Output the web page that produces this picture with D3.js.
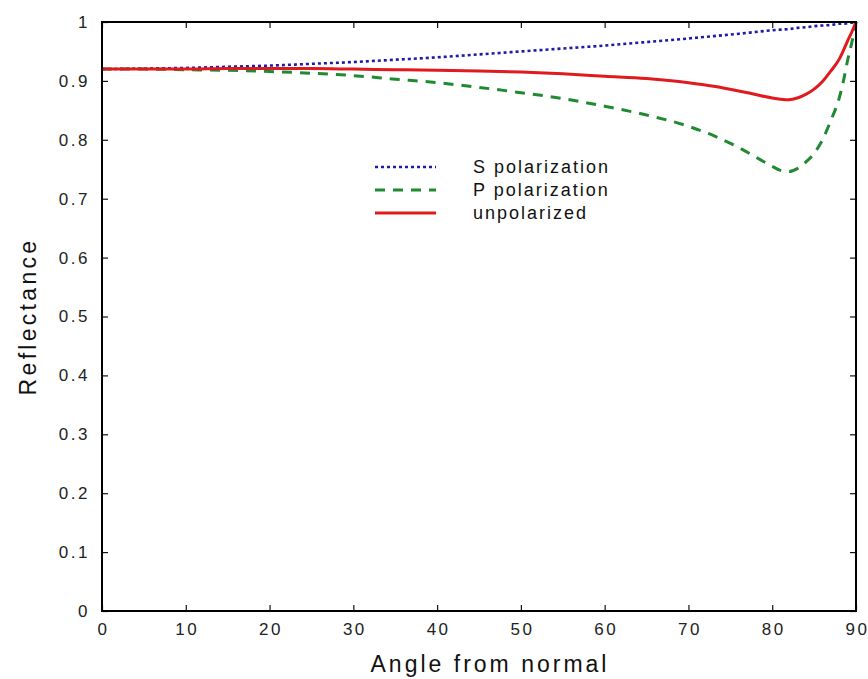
<!DOCTYPE html>
<html>
<head>
<meta charset="utf-8">
<script src="https://cdn.jsdelivr.net/npm/d3@7"></script>
<style>
  html, body { margin: 0; padding: 0; background: #fff; }
  svg { display: block; }
  text { font-family: "Liberation Sans", Arial, Helvetica, sans-serif; }
</style>
</head>
<body>
<svg id="chart" width="868" height="679"></svg>
<script>
// Angle of incidence (degrees)
const angles = [0, 5, 10, 15, 20, 25, 30, 35, 40, 45, 50, 55, 60, 65, 70, 73, 76, 78, 80, 81, 82, 83, 84, 85, 86, 87, 88, 88.5, 89, 89.5, 90];

// Reflectance for s-polarized light
const sPol = [0.920, 0.921, 0.922, 0.924, 0.926, 0.929, 0.932, 0.936, 0.940, 0.945, 0.950, 0.955, 0.960, 0.966, 0.972, 0.976, 0.980, 0.983, 0.986, 0.987, 0.988, 0.990, 0.991, 0.993, 0.994, 0.995, 0.997, 0.997, 0.998, 0.999, 1.000];

// Reflectance for p-polarized light
const pPol = [0.920, 0.920, 0.919, 0.918, 0.916, 0.913, 0.909, 0.903, 0.897, 0.889, 0.880, 0.870, 0.857, 0.842, 0.823, 0.807, 0.787, 0.771, 0.755, 0.748, 0.746, 0.751, 0.762, 0.777, 0.800, 0.833, 0.871, 0.900, 0.935, 0.965, 1.000];

// Reflectance for unpolarized light
const unPol = [0.920, 0.920, 0.920, 0.921, 0.921, 0.921, 0.920, 0.919, 0.918, 0.917, 0.915, 0.912, 0.908, 0.904, 0.897, 0.891, 0.883, 0.877, 0.871, 0.869, 0.868, 0.871, 0.877, 0.886, 0.899, 0.917, 0.937, 0.952, 0.968, 0.983, 1.000];

const xTicks = [0, 10, 20, 30, 40, 50, 60, 70, 80, 90];
const yTicks = [0, 0.1, 0.2, 0.3, 0.4, 0.5, 0.6, 0.7, 0.8, 0.9, 1];

const seriesNames = ["S polarization", "P polarization", "unpolarized"];
const seriesColors = ["#1c1ca8", "#1f8a32", "#e01a1e"];
const seriesDash = ["3,3", "10,8", null];
const seriesWidth = [2.6, 3, 3];
const seriesValues = [sPol, pPol, unPol];

const svg = d3.select("#chart");
const plotLeft = 102, plotRight = 856, plotTop = 22, plotBottom = 611;

const x = d3.scaleLinear().domain([0, 90]).range([plotLeft, plotRight]);
const y = d3.scaleLinear().domain([0, 1]).range([plotBottom, plotTop]);

// Data curves
const line = d3.line()
  .x(d => x(d[0]))
  .y(d => y(d[1]))
  .curve(d3.curveMonotoneX);

const plot = svg.append("g");
seriesValues.forEach((vals, i) => {
  plot.append("path")
    .datum(angles.map((a, j) => [a, vals[j]]))
    .attr("d", line)
    .attr("fill", "none")
    .attr("stroke", seriesColors[i])
    .attr("stroke-width", seriesWidth[i])
    .attr("stroke-dasharray", seriesDash[i])
    .attr("stroke-linejoin", "round");
});

// Axes with inward ticks on all four sides
const tickStyle = g => {
  g.select(".domain").remove();
  g.selectAll(".tick line").attr("stroke", "#111").attr("stroke-width", 1.2);
  g.selectAll(".tick text")
    .attr("fill", "#222")
    .style("font-size", "17px")
    .style("letter-spacing", "2.5px");
};

svg.append("g")
  .attr("transform", `translate(0,${plotBottom})`)
  .call(d3.axisBottom(x).tickValues(xTicks).tickFormat(d3.format("d")).tickSize(-6).tickPadding(12))
  .call(tickStyle)
  .call(g => g.selectAll(".tick text").attr("dx", "1px"));

svg.append("g")
  .attr("transform", `translate(${plotLeft},0)`)
  .call(d3.axisLeft(y).tickValues(yTicks).tickFormat(d => d === 0 || d === 1 ? d3.format("d")(d) : d3.format(".1f")(d)).tickSize(-6).tickPadding(12))
  .call(tickStyle);

svg.append("g")
  .attr("transform", `translate(0,${plotTop})`)
  .call(d3.axisTop(x).tickValues(xTicks).tickFormat("").tickSize(-6))
  .call(tickStyle);

svg.append("g")
  .attr("transform", `translate(${plotRight},0)`)
  .call(d3.axisRight(y).tickValues(yTicks).tickFormat("").tickSize(-6))
  .call(tickStyle);

// Frame
svg.append("rect")
  .attr("x", plotLeft).attr("y", plotTop)
  .attr("width", plotRight - plotLeft).attr("height", plotBottom - plotTop)
  .attr("fill", "none").attr("stroke", "#000").attr("stroke-width", 2);

// Axis titles
svg.append("text")
  .attr("x", (plotLeft + plotRight) / 2 + 11)
  .attr("y", 672)
  .attr("text-anchor", "middle")
  .style("font-size", "23px")
  .style("letter-spacing", "3px")
  .attr("fill", "#111")
  .text("Angle from normal");

svg.append("text")
  .attr("transform", `translate(36,${(plotTop + plotBottom) / 2}) rotate(-90)`)
  .attr("text-anchor", "middle")
  .style("font-size", "23px")
  .style("letter-spacing", "3.3px")
  .attr("fill", "#111")
  .text("Reflectance");

// Legend
const legendY = [167, 190, 213];
const legend = svg.append("g");
seriesNames.forEach((name, i) => {
  legend.append("line")
    .attr("x1", 375).attr("x2", 436)
    .attr("y1", legendY[i]).attr("y2", legendY[i])
    .attr("stroke", seriesColors[i])
    .attr("stroke-width", seriesWidth[i])
    .attr("stroke-dasharray", seriesDash[i]);
  legend.append("text")
    .attr("x", 473)
    .attr("y", legendY[i] + 6)
    .style("font-size", "18px")
    .style("letter-spacing", "2px")
    .attr("fill", "#111")
    .text(name);
});
</script>
</body>
</html>
